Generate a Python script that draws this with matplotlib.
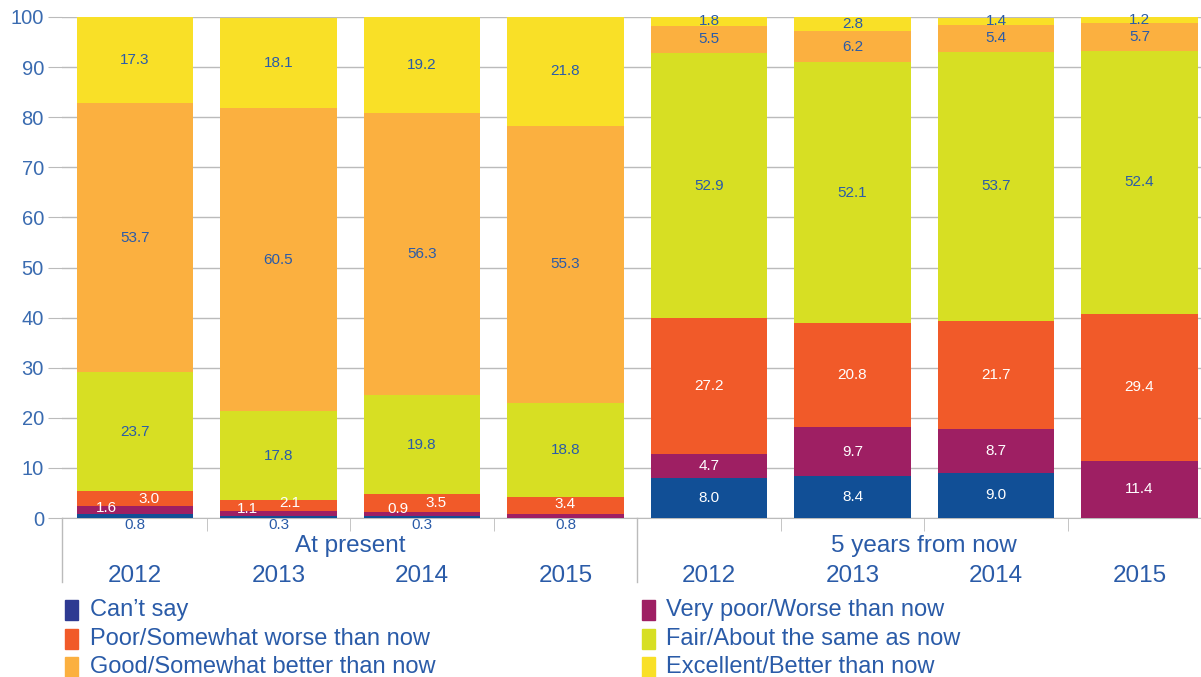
import matplotlib
matplotlib.use("Agg")
import matplotlib.pyplot as plt
from matplotlib.patches import Rectangle
import numpy as np

plt.rcParams['font.family'] = ['Liberation Sans', 'DejaVu Sans']

years = ["2012", "2013", "2014", "2015"]
groups = ["At present", "5 years from now"]
categories = ["Can\u2019t say", "Very poor/Worse than now", "Poor/Somewhat worse than now",
              "Fair/About the same as now", "Good/Somewhat better than now", "Excellent/Better than now"]

# order of bars: at present 2012-2015, then 5 years 2012-2015
cant_say  = [0.8, 0.3, 0.3, 0.0, 8.0, 8.4, 9.0, 0.0]
very_poor = [1.6, 1.1, 0.9, 0.8, 4.7, 9.7, 8.7, 11.4]
poor      = [3.0, 2.1, 3.5, 3.4, 27.2, 20.8, 21.7, 29.4]
fair      = [23.7, 17.8, 19.8, 18.8, 52.9, 52.1, 53.7, 52.4]
good      = [53.7, 60.5, 56.3, 55.3, 5.5, 6.2, 5.4, 5.7]
excellent = [17.3, 18.1, 19.2, 21.8, 1.8, 2.8, 1.4, 1.2]

series = [cant_say, very_poor, poor, fair, good, excellent]
bar_colors = ["#114f96", "#9e1f63", "#f15a29", "#d7df23", "#fbb040", "#f9e027"]
legend_colors = ["#2e3a92", "#9e1f63", "#f15a29", "#d7df23", "#fbb040", "#f9e027"]
text_on = ["white", "white", "white", "#2a5ba8", "#2a5ba8", "#2a5ba8"]
BLUE = "#2a5ba8"

fig = plt.figure(figsize=(12.01, 6.77), dpi=100)
ax = fig.add_axes([62/1201, 159/677, 1 - 62/1201, 501/677])

x = np.arange(8)
bottom = np.zeros(8)
for vals, col in zip(series, bar_colors):
    ax.bar(x, vals, width=0.81, bottom=bottom, color=col, zorder=3, linewidth=0)
    bottom += np.array(vals)

ax.set_xlim(-0.509, 7.429)
ax.set_ylim(0, 100)
ax.set_yticks(range(0, 101, 10))
ax.yaxis.grid(True, color="#bbbbbb", linewidth=1, zorder=0)
ax.tick_params(axis='y', length=10, color="#bbbbbb", labelcolor="#3a6bb0", labelsize=14.5, pad=3)
for s in ["top", "right", "left"]:
    ax.spines[s].set_visible(False)
ax.spines["bottom"].set_color("#bbbbbb")
ax.set_xticks([])
ax.set_xticks([0.5, 1.5, 2.5, 4.5, 5.5, 6.5], minor=True)
ax.tick_params(axis='x', which='minor', length=9, color="#bbbbbb")
ax.set_xticklabels([], minor=True)

trans = ax.get_xaxis_transform()
for gx in [-0.509, 3.5]:
    ax.plot([gx, gx], [0, -0.128], transform=trans, color="#bbbbbb", lw=1, clip_on=False)

# year and group labels
for i in range(8):
    ax.text(i, -0.116, years[i % 4], transform=trans, ha="center", va="center",
            fontsize=17.5, color=BLUE)
ax.text(1.5, -0.056, groups[0], transform=trans, ha="center", va="center", fontsize=17.5, color=BLUE)
ax.text(5.5, -0.056, groups[1], transform=trans, ha="center", va="center", fontsize=17.5, color=BLUE)

fs = 11
# segment labels
for i in range(8):
    b = 0
    for k, vals in enumerate(series):
        v = vals[i]
        mid = b + v / 2
        b += v
        if v == 0:
            continue
        if i < 4 and k <= 2:
            continue  # small ones handled below
        ax.text(i, mid, f"{v:.1f}", ha="center", va="center", fontsize=fs,
                color=text_on[k], zorder=5)

# small labels at present
small_cs = [(0, cant_say[0]), (1, cant_say[1]), (2, cant_say[2]), (3, very_poor[3])]
for i, v in small_cs:
    ax.text(i, -1.4, f"{v:.1f}", ha="center", va="center", fontsize=fs, color=BLUE)
vp_pos = [(0, -0.2, 2.0), (1, -0.22, 1.8), (2, -0.17, 1.8)]
for i, dx, y in vp_pos:
    ax.text(i + dx, y, f"{very_poor[i]:.1f}", ha="center", va="center", fontsize=fs, color="white", zorder=5)
p_pos = [(0, 0.1, 3.8), (1, 0.08, 3.0), (2, 0.1, 2.9), (3, 0.0, 2.7)]
for i, dx, y in p_pos:
    ax.text(i + dx, y, f"{poor[i]:.1f}", ha="center", va="center", fontsize=fs, color="white", zorder=5)

# legend
rows = [610, 639, 667]
cols = [(65, 90), (642, 666)]
for idx, (lab, col) in enumerate(zip(categories, legend_colors)):
    c = idx % 2
    r = idx // 2
    sx, tx = cols[c]
    yc = rows[r]
    fig.patches.append(Rectangle((sx/1201, 1 - (yc + 10)/677), 13/1201, 20/677,
                                 transform=fig.transFigure, color=col))
    fig.text(tx/1201, 1 - yc/677, lab, ha="left", va="center", fontsize=17, color=BLUE)

fig.savefig("out.png", dpi=100)
